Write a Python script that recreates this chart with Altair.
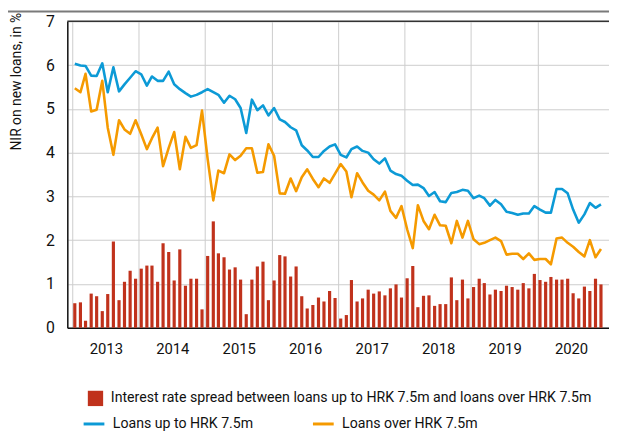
import altair as alt
import pandas as pd

# Monthly data, Jan 2013 - Dec 2020
loans_up = [
    6.03, 5.99, 5.98, 5.76, 5.75, 6.04, 5.38, 5.95, 5.40, 5.56, 5.71, 5.86,
    5.79, 5.53, 5.74, 5.64, 5.64, 5.85, 5.56, 5.45, 5.36, 5.28, 5.32, 5.38,
    5.45, 5.38, 5.32, 5.14, 5.30, 5.22, 5.02, 4.45, 5.21, 4.97, 5.08, 4.85,
    5.02, 4.76, 4.70, 4.58, 4.51, 4.17, 4.05, 3.90, 3.90, 4.04, 4.14, 4.19,
    3.95, 3.89, 4.08, 4.14, 4.04, 4.00, 3.85, 3.75, 3.87, 3.59, 3.51, 3.47,
    3.36, 3.26, 3.27, 3.19, 3.01, 3.10, 2.89, 2.87, 3.08, 3.10, 3.15, 3.13,
    2.96, 3.02, 2.96, 2.79, 2.92, 2.82, 2.65, 2.62, 2.58, 2.61, 2.61, 2.78,
    2.70, 2.63, 2.63, 3.17, 3.17, 3.07, 2.70, 2.40, 2.59, 2.85, 2.74, 2.82,
]
loans_over = [
    5.47, 5.38, 5.80, 4.94, 4.98, 5.64, 4.57, 3.95, 4.74, 4.53, 4.43, 4.74,
    4.42, 4.08, 4.33, 4.57, 3.69, 4.11, 4.47, 3.62, 4.36, 4.11, 4.17, 4.96,
    3.85, 2.91, 3.59, 3.53, 3.96, 3.83, 3.93, 4.10, 4.10, 3.54, 3.56, 4.19,
    3.93, 3.07, 3.06, 3.41, 3.12, 3.44, 3.62, 3.40, 3.21, 3.41, 3.31, 3.52,
    3.74, 3.57, 2.98, 3.53, 3.32, 3.13, 3.04, 2.91, 3.11, 2.67, 2.51, 2.78,
    2.25, 1.82, 2.80, 2.44, 2.25, 2.58, 2.34, 2.33, 1.93, 2.44, 2.06, 2.44,
    2.02, 1.91, 1.94, 2.00, 2.06, 1.98, 1.67, 1.69, 1.69, 1.57, 1.70, 1.55,
    1.57, 1.57, 1.45, 2.04, 2.06, 1.94, 1.85, 1.73, 1.63, 2.00, 1.61, 1.80,
]
spread = [
    0.56, 0.58, 0.16, 0.78, 0.72, 0.38, 0.77, 1.97, 0.63, 1.05, 1.30, 1.12,
    1.35, 1.42, 1.42, 1.05, 1.93, 1.73, 1.08, 1.79, 0.96, 1.12, 1.12, 0.42,
    1.64, 2.43, 1.70, 1.61, 1.33, 1.38, 1.10, 0.31, 1.10, 1.40, 1.51, 0.63,
    1.08, 1.66, 1.63, 1.17, 1.40, 0.72, 0.44, 0.52, 0.69, 0.60, 0.84, 0.68,
    0.21, 0.29, 1.09, 0.60, 0.67, 0.87, 0.78, 0.83, 0.74, 0.90, 0.99, 0.69,
    1.13, 1.41, 0.47, 0.73, 0.74, 0.50, 0.54, 0.54, 1.15, 0.63, 1.10, 0.67,
    0.93, 1.12, 1.02, 0.76, 0.87, 0.84, 0.96, 0.93, 0.87, 1.02, 0.90, 1.23,
    1.09, 1.05, 1.16, 1.10, 1.10, 1.12, 0.79, 0.67, 0.94, 0.84, 1.12, 0.99,
]
months = (pd.date_range("2013-01-01", periods=96, freq="MS") + pd.Timedelta(days=14)).strftime("%Y-%m-%dT00:00:00").tolist()
year_ticks = list(range(2013, 2021))
y_ticks = [0, 1, 2, 3, 4, 5, 6, 7]

S_UP = "Loans up to HRK 7.5m"
S_OVER = "Loans over HRK 7.5m"
S_SPREAD = "Interest rate spread between loans up to HRK 7.5m and loans over HRK 7.5m"

BLUE = "#0c9ad6"
ORANGE = "#f59a00"
RED = "#c0321c"
FONT = "Roboto"
LEG_FS = 14.3

bar_df = pd.DataFrame({"date": months, "spread": spread, "series": S_SPREAD})
line_df = pd.DataFrame({
    "date": months + months,
    "value": loans_up + loans_over,
    "key": [S_UP] * len(months) + [S_OVER] * len(months),
})

xscale = alt.Scale(domain=[alt.DateTime(year=2013, month=1, date=1),
                           alt.DateTime(year=2021, month=1, date=1)])
xaxis = alt.Axis(values=[alt.DateTime(year=y, month=1, date=1) for y in year_ticks],
                 format="%Y", labelOffset=34, ticks=False,
                 grid=True, gridColor="#cccccc", gridWidth=1, domainColor="#111111", domainWidth=1.5,
                 labelPadding=21, labelBaseline="middle", labelFontSize=15, labelOverlap=False,
                 labelFlush=False, title=None)
yscale = alt.Scale(domain=[0, 7], nice=False, zero=True)
YTITLE = "NIR on new loans, in %"
yaxis = alt.Axis(values=y_ticks, ticks=False, grid=True, gridColor="#cccccc", gridWidth=1,
                 domainColor="#111111", domainWidth=1.5, labelPadding=13, labelFontSize=16,
                 title=YTITLE, titleFontSize=14, titleFontWeight="normal",
                 titleX=-51, titleY=-9, titleAlign="right", titleBaseline="middle", titleAngle=270)

bars = alt.Chart(bar_df).mark_bar(width=3.2).encode(
    x=alt.X("date:T", scale=xscale, axis=xaxis),
    y=alt.Y("spread:Q", scale=yscale, axis=yaxis),
    fill=alt.Fill("series:N", scale=alt.Scale(domain=[S_SPREAD], range=[RED]),
                  legend=alt.Legend(orient="none", legendX=20, legendY=373, title=None,
                                    symbolType="square", symbolSize=240, labelOffset=7,
                                    labelFontSize=LEG_FS, padding=0)),
)

lines = alt.Chart(line_df).mark_line(strokeWidth=2.6, strokeJoin="round").encode(
    x=alt.X("date:T", scale=xscale, axis=xaxis),
    y=alt.Y("value:Q", scale=yscale, axis=yaxis),
    stroke=alt.Stroke("key:N", scale=alt.Scale(domain=[S_UP, S_OVER], range=[BLUE, ORANGE]),
                      legend=alt.Legend(orient="none", legendX=15, legendY=395, title=None,
                                        symbolType="stroke", symbolSize=441, symbolStrokeWidth=3,
                                        labelOffset=7, labelFontSize=LEG_FS, columns=2,
                                        columnPadding=53, padding=0)),
)

deco = alt.Data(values=[{"k": 0}])
top_border = alt.Chart(deco).mark_rule(color="#333333", strokeWidth=1.5).encode(
    x=alt.value(0), x2=alt.value(548), y=alt.value(0))
top_rule = alt.Chart(deco).mark_rule(color="#7a7a7a", strokeWidth=2).encode(
    x=alt.value(-61), x2=alt.value(548), y=alt.value(-10))

chart = alt.layer(bars, lines, top_border, top_rule).properties(
    width=548, height=310,
    autosize=alt.AutoSizeParams(type="none"),
    padding={"left": 60, "top": 11, "right": 0, "bottom": 103},
).configure_view(strokeOpacity=0).configure(
    font=FONT,
).configure_axis(labelFont=FONT, titleFont=FONT, labelColor="#111111", titleColor="#111111"
).configure_legend(labelFont=FONT, labelColor="#111111", labelLimit=0)

chart.save("out.html", embed_options={"renderer": "svg", "actions": False})
